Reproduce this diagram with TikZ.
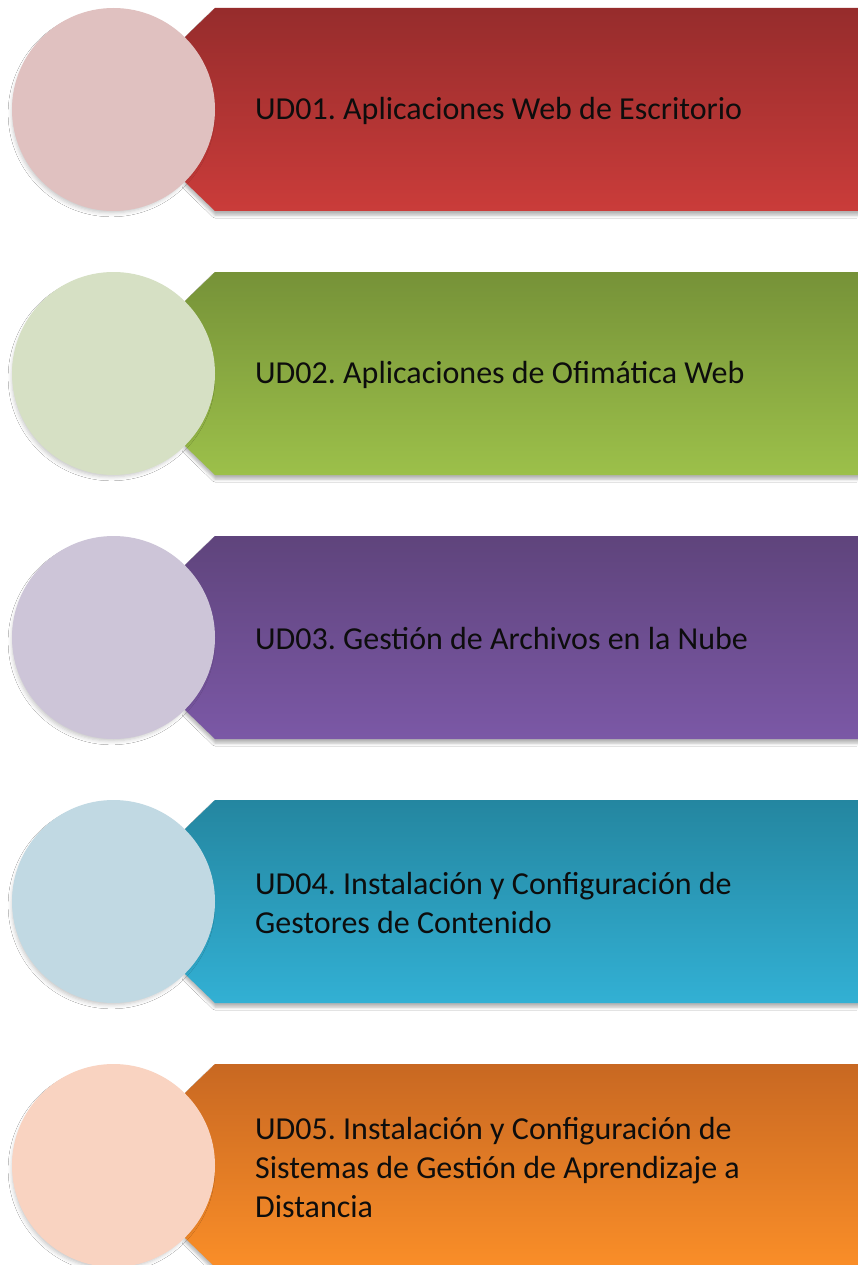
\documentclass[tikz,border=0pt]{standalone}
\usepackage{fontspec}
\setmainfont{Carlito}
\usetikzlibrary{shadows.blur}
\frenchspacing

% banner gradients (top / bottom) and pale disc colours
\definecolor{redTop}{RGB}{150,44,44}
\definecolor{redBot}{RGB}{202,60,58}
\definecolor{redPale}{RGB}{224,193,192}
\definecolor{grnTop}{RGB}{118,146,56}
\definecolor{grnBot}{RGB}{156,192,74}
\definecolor{grnPale}{RGB}{214,224,196}
\definecolor{purTop}{RGB}{95,68,124}
\definecolor{purBot}{RGB}{123,88,166}
\definecolor{purPale}{RGB}{205,197,216}
\definecolor{tealTop}{RGB}{36,134,160}
\definecolor{tealBot}{RGB}{50,176,212}
\definecolor{tealPale}{RGB}{193,217,227}
\definecolor{orgTop}{RGB}{200,104,34}
\definecolor{orgBot}{RGB}{250,142,40}
\definecolor{orgPale}{RGB}{249,211,193}
\definecolor{ink}{RGB}{13,13,13}

\tikzset{
  bannershadow/.style={blur shadow={shadow xshift=0pt, shadow yshift=-4pt,
      shadow blur radius=3pt, shadow opacity=30}},
  disc/.style={circle, inner sep=0pt, minimum size=203pt, draw=none,
      blur shadow={shadow xshift=-2pt, shadow yshift=-4pt, shadow scale=0.98,
      shadow blur radius=4pt, shadow opacity=22}},
  label/.style={anchor=west, align=left, inner sep=0pt, text=ink, yshift=-1.5pt,
      font=\fontsize{32}{39}\selectfont},
}

\begin{document}
\begin{tikzpicture}[x=1pt, y=-1pt]
\useasboundingbox (0,0) rectangle (857,1265);
\fill[white] (0,0) rectangle (857,1265);

\foreach \i/\ctop/\cbot/\cpale/\txt in {
  1/redTop/redBot/redPale/{UD01. Aplicaciones Web de Escritorio},
  2/grnTop/grnBot/grnPale/{UD02. Aplicaciones de Ofimática Web},
  3/purTop/purBot/purPale/{UD03. Gestión de Archivos en la Nube},
  4/tealTop/tealBot/tealPale/{UD04. Instalación y Configuración de\\Gestores de Contenido},
  5/orgTop/orgBot/orgPale/{UD05. Instalación y Configuración de\\Sistemas de Gestión de Aprendizaje a\\Distancia}}
{
  \pgfmathsetmacro{\yt}{8+264*(\i-1)}
  \pgfmathsetmacro{\yb}{\yt+203}
  \pgfmathsetmacro{\yc}{\yt+101.5}
  % chamfered banner
  \path[bannershadow, top color=\ctop, bottom color=\cbot]
    (215,\yt) -- (880,\yt) -- (880,\yb) -- (215,\yb)
    -- (185,\yb-29) -- (185,\yt+29) -- cycle;
  % disc on the left
  \node[disc, fill=\cpale] (disc\i) at (113.5,\yc) {};
  % unit title
  \node[label] (title\i) at (255,\yc) {\txt};
}
\end{tikzpicture}
\end{document}
